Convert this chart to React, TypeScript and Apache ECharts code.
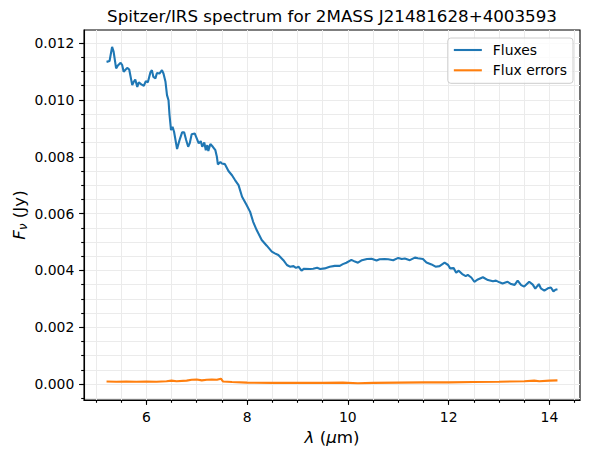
import React, { useEffect, useRef } from "react";
import * as echarts from "echarts";

// Spitzer/IRS low-resolution spectrum: wavelength (µm) and flux density (Jy)
const WAVELENGTH = [
  5.21, 5.27, 5.32, 5.35, 5.40, 5.43, 5.49, 5.52, 5.55, 5.62, 5.66, 5.72, 5.75, 5.78, 5.82,
  5.85, 5.90, 5.95, 5.99, 6.03, 6.08, 6.11, 6.14, 6.18, 6.21, 6.26, 6.31, 6.34, 6.38, 6.41,
  6.44, 6.46, 6.49, 6.52, 6.55, 6.61, 6.64, 6.67, 6.71, 6.75, 6.79, 6.83, 6.86, 6.90, 6.96,
  7.00, 7.04, 7.08, 7.11, 7.15, 7.18, 7.21, 7.23, 7.27, 7.32, 7.37, 7.40, 7.42, 7.47, 7.50,
  7.56, 7.63, 7.70, 7.76, 7.83, 7.90, 7.99, 8.06, 8.12, 8.19, 8.29, 8.39, 8.49, 8.55, 8.62,
  8.72, 8.79, 8.85, 8.92, 8.97, 9.02, 9.08, 9.13, 9.25, 9.31, 9.39, 9.45, 9.54, 9.64, 9.74,
  9.84, 9.90, 9.97, 10.07, 10.14, 10.20, 10.28, 10.38, 10.47, 10.57, 10.63, 10.73, 10.80,
  10.90, 11.00, 11.07, 11.13, 11.23, 11.33, 11.39, 11.49, 11.56, 11.66, 11.74, 11.82, 11.92,
  11.99, 12.03, 12.10, 12.15, 12.20, 12.27, 12.34, 12.38, 12.45, 12.51, 12.58, 12.68, 12.78,
  12.88, 12.94, 13.01, 13.07, 13.17, 13.24, 13.31, 13.37, 13.44, 13.50, 13.60, 13.67, 13.72,
  13.79, 13.83, 13.90, 13.97, 14.03, 14.08, 14.12, 14.16,
];
const FLUX = [
  0.01134, 0.01137, 0.01187, 0.0117, 0.01111, 0.0112, 0.01131, 0.01123, 0.01099, 0.01113,
  0.01107, 0.01052, 0.01064, 0.01072, 0.01046, 0.01062, 0.01055, 0.0105, 0.01066, 0.01062,
  0.01097, 0.01105, 0.01081, 0.01076, 0.01095, 0.01093, 0.01105, 0.01093, 0.01064, 0.01017,
  0.00999, 0.00947, 0.00894, 0.00905, 0.00888, 0.00827, 0.00847, 0.00865, 0.00886, 0.00886,
  0.00859, 0.00835, 0.00847, 0.00879, 0.00882, 0.00865, 0.00847, 0.00855, 0.00835, 0.0085,
  0.00823, 0.00841, 0.0082, 0.00845, 0.00835, 0.00823, 0.008, 0.00773, 0.00782, 0.00776,
  0.00774, 0.0075, 0.00735, 0.00718, 0.007, 0.00659, 0.0063, 0.00606, 0.00571, 0.00542,
  0.00507, 0.00487, 0.00466, 0.0046, 0.00454, 0.00436, 0.00419, 0.00413, 0.00415, 0.00409,
  0.00413, 0.00399, 0.00406, 0.00405, 0.00406, 0.00409, 0.00405, 0.00407, 0.00413, 0.00416,
  0.00416, 0.00422, 0.00427, 0.00437, 0.00431, 0.00427, 0.00436, 0.0044, 0.00441, 0.00435,
  0.00439, 0.0044, 0.00439, 0.00436, 0.00444, 0.0044, 0.00442, 0.00436, 0.00445, 0.00443,
  0.0044, 0.00428, 0.00421, 0.00413, 0.00415, 0.00427, 0.00419, 0.00407, 0.00408, 0.00392,
  0.00399, 0.00387, 0.0038, 0.00384, 0.00375, 0.0036, 0.00368, 0.00376, 0.00366, 0.00362,
  0.00364, 0.00358, 0.00354, 0.0036, 0.00352, 0.00349, 0.00364, 0.00348, 0.00343, 0.0036,
  0.0035, 0.00336, 0.00352, 0.00337, 0.00329, 0.00337, 0.0034, 0.00326, 0.00332, 0.00334,
];

// Flux uncertainties (Jy)
const ERR_WAVELENGTH = [
  5.21, 5.4, 5.6, 5.8, 6.0, 6.2, 6.4, 6.5, 6.6, 6.8, 6.9, 7.0, 7.1, 7.2, 7.3, 7.4, 7.48,
  7.52, 7.7, 8.0, 8.5, 9.0, 9.5, 9.9, 10.2, 10.5, 11.0, 11.5, 12.0, 12.5, 13.0, 13.5, 13.7,
  13.8, 14.0, 14.16,
];
const FLUX_ERR = [
  0.00009, 0.00008, 0.00009, 0.00008, 0.00009, 0.00008, 0.0001, 0.00012, 0.0001, 0.00012,
  0.00015, 0.00016, 0.00013, 0.00015, 0.00016, 0.00015, 0.00019, 0.00009, 0.00007, 0.00005,
  0.00004, 0.00004, 0.00004, 0.00005, 0.00003, 0.00004, 0.00005, 0.00006, 0.00006, 0.00007,
  0.00008, 0.0001, 0.00012, 0.0001, 0.00012, 0.00013,
];

const X_MAJOR = [6, 8, 10, 12, 14];
const Y_MAJOR = [0, 0.002, 0.004, 0.006, 0.008, 0.01, 0.012];
const X_MINOR_STEP = 0.5;
const Y_MINOR_STEP = 0.0005;

const FONT = "DejaVu Sans";
const W = 590;
const H = 458;
const GRID = { left: 84, right: 10, top: 30, bottom: 58 };

function padExtent(values: number[]): [number, number] {
  const lo = Math.min(...values);
  const hi = Math.max(...values);
  const m = (hi - lo) * 0.05;
  return [lo - m, hi + m];
}

function stepsWithin(lo: number, hi: number, step: number): number[] {
  const out: number[] = [];
  for (let k = Math.ceil(lo / step); k * step <= hi; k++) {
    out.push(Number((k * step).toFixed(6)));
  }
  return out;
}

export default function App() {
  const ref = useRef<HTMLDivElement>(null);

  useEffect(() => {
    if (!ref.current) return;
    const chart = echarts.init(ref.current, undefined, { renderer: "svg" });

    const [xMin, xMax] = padExtent([...WAVELENGTH, ...ERR_WAVELENGTH]);
    const [yMin, yMax] = padExtent([...FLUX, ...FLUX_ERR]);
    const xMinor = stepsWithin(xMin, xMax, X_MINOR_STEP);
    const yMinor = stepsWithin(yMin, yMax, Y_MINOR_STEP);

    const tickLabel = {
      color: "#000",
      fontFamily: FONT,
      fontSize: 13.9,
    };
    const gridLine = { show: true, lineStyle: { color: "#ebebeb", width: 1 } };
    const black = { color: "#000", width: 1.1 };

    const plotCenterX = GRID.left + (W - GRID.left - GRID.right) / 2;
    const plotCenterY = GRID.top + (H - GRID.top - GRID.bottom) / 2;

    chart.setOption({
      animation: false,
      backgroundColor: "#fff",
      grid: {
        ...GRID,
        show: true,
        borderColor: "#000",
        borderWidth: 1.1,
        backgroundColor: "transparent",
        containLabel: false,
      },
      xAxis: [
        {
          type: "value",
          min: xMin,
          max: xMax,
          position: "bottom",
          axisLine: { show: true, onZero: false, lineStyle: black },
          axisTick: { show: true, length: 4.9, customValues: X_MAJOR, lineStyle: black },
          axisLabel: {
            ...tickLabel,
            customValues: X_MAJOR,
            margin: 9.7,
            formatter: (v: number) => String(v),
          },
          splitLine: { show: false },
        },
        {
          type: "value",
          min: xMin,
          max: xMax,
          position: "bottom",
          axisLine: { show: false, onZero: false },
          axisTick: { show: true, length: 2.8, customValues: xMinor, lineStyle: black },
          axisLabel: { show: false },
          splitLine: gridLine,
        },
      ],
      yAxis: [
        {
          type: "value",
          min: yMin,
          max: yMax,
          position: "left",
          axisLine: { show: true, onZero: false, lineStyle: black },
          axisTick: { show: true, length: 4.9, customValues: Y_MAJOR, lineStyle: black },
          axisLabel: {
            ...tickLabel,
            customValues: Y_MAJOR,
            margin: 9.7,
            formatter: (v: number) => v.toFixed(3),
          },
          splitLine: { show: false },
        },
        {
          type: "value",
          min: yMin,
          max: yMax,
          position: "left",
          axisLine: { show: false, onZero: false },
          axisTick: { show: true, length: 2.8, customValues: yMinor, lineStyle: black },
          axisLabel: { show: false },
          splitLine: gridLine,
        },
      ],
      legend: {
        top: 38,
        right: 17,
        orient: "vertical",
        itemWidth: 28,
        itemHeight: 14,
        itemGap: 6.3,
        padding: [5, 6, 6, 5],
        backgroundColor: "rgba(255,255,255,0.8)",
        borderColor: "#cccccc",
        borderWidth: 1,
        borderRadius: 3,
        // legend handles are plain line segments without a marker
        itemStyle: { color: "rgba(0,0,0,0)", borderWidth: 0, opacity: 0 },
        lineStyle: { width: 2.1 },
        textStyle: {
          color: "#000",
          fontFamily: FONT,
          fontSize: 13.9,
          padding: [0, 0, 0, 6],
        },
        data: ["Fluxes", "Flux errors"],
      },
      series: [
        {
          name: "Fluxes",
          type: "line",
          xAxisIndex: 0,
          yAxisIndex: 0,
          symbol: "none",
          lineStyle: { color: "#1f77b4", width: 2.1 },
          itemStyle: { color: "#1f77b4" },
          data: WAVELENGTH.map((w, i) => [w, FLUX[i]]),
          z: 3,
        },
        {
          name: "Flux errors",
          type: "line",
          xAxisIndex: 0,
          yAxisIndex: 0,
          symbol: "none",
          lineStyle: { color: "#ff7f0e", width: 2.1 },
          itemStyle: { color: "#ff7f0e" },
          data: ERR_WAVELENGTH.map((w, i) => [w, FLUX_ERR[i]]),
          z: 3,
        },
      ],
      graphic: [
        {
          type: "text",
          x: plotCenterX,
          y: 16,
          style: {
            text: "Spitzer/IRS spectrum for 2MASS J21481628+4003593",
            fill: "#000",
            font: `16.7px ${FONT}`,
            align: "center",
            verticalAlign: "middle",
          },
        },
        {
          type: "text",
          x: plotCenterX,
          y: 437,
          style: {
            text: "{i|λ} {r|(}{i|μ}{r|m)}",
            fill: "#000",
            font: `16.7px ${FONT}`,
            align: "center",
            verticalAlign: "middle",
            rich: {
              i: { fontFamily: FONT, fontSize: 16.7, fontStyle: "italic", fill: "#000" },
              r: { fontFamily: FONT, fontSize: 16.7, fill: "#000" },
            },
          },
        },
        {
          type: "text",
          x: 19,
          y: plotCenterY,
          rotation: Math.PI / 2,
          style: {
            text: "{i|F}{s|ν}{r| (Jy)}",
            fill: "#000",
            font: `16.7px ${FONT}`,
            align: "center",
            verticalAlign: "middle",
            rich: {
              i: { fontFamily: FONT, fontSize: 16.7, fontStyle: "italic", fill: "#000", lineHeight: 20 },
              s: {
                fontFamily: FONT,
                fontSize: 11.7,
                fontStyle: "italic",
                fill: "#000",
                lineHeight: 20,
                verticalAlign: "bottom",
              },
              r: { fontFamily: FONT, fontSize: 16.7, fill: "#000", lineHeight: 20 },
            },
          },
        },
      ],
    });

    return () => chart.dispose();
  }, []);

  return (
    <div
      ref={ref}
      style={{ position: "fixed", left: 0, top: 0, width: W, height: H, background: "#fff" }}
    />
  );
}
